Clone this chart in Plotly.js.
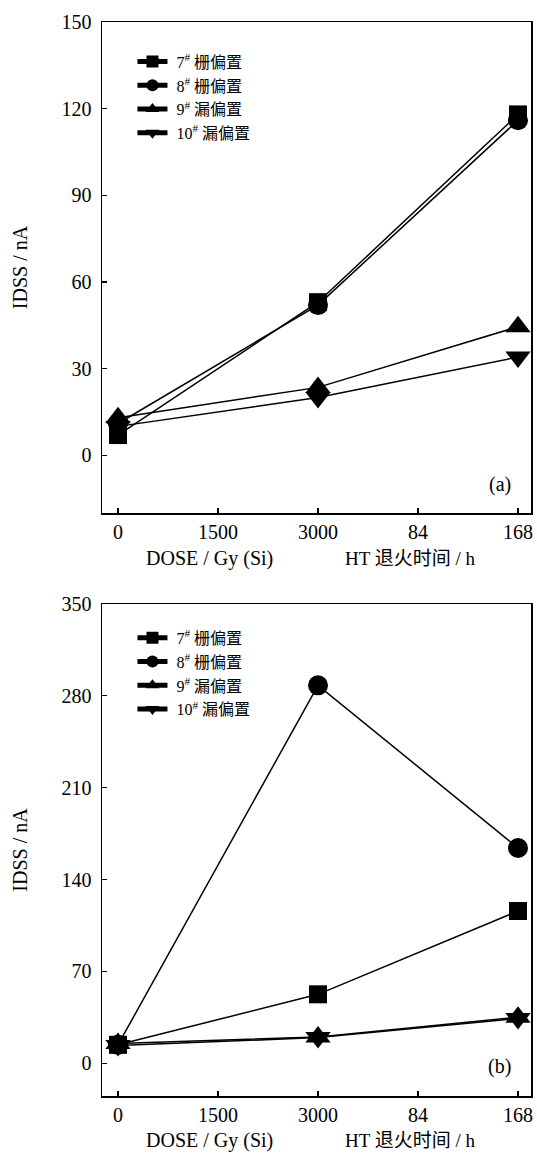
<!DOCTYPE html>
<html>
<head>
<meta charset="utf-8">
<script src="https://cdn.plot.ly/plotly-3.0.1.min.js"></script>
<style>html,body{margin:0;padding:0;background:#fff;}</style>
</head>
<body>
<div id="chart" style="width:537px;height:1153px;"></div>
<script>
// Categories along the x axis (dose in Gy(Si), then HT anneal time in h)
const tickLabels = ['0', '1500', '3000', '84', '168'];
const xCats = ['0', '3000', '168'];

// Series names
const seriesNames = ['\u00a07<sup>#</sup> 栅偏置', '\u00a08<sup>#</sup> 栅偏置', '\u00a09<sup>#</sup> 漏偏置', '\u00a010<sup>#</sup> 漏偏置'];

// Panel (a) IDSS / nA
const a7 = [7, 53, 118];
const a8 = [11, 52, 116];
const a9 = [13, 23.5, 44.5];
const a10 = [10, 20, 34];

// Panel (b) IDSS / nA
const b7 = [14, 52.5, 116];
const b8 = [14, 288, 164];
const b9 = [15, 20, 35];
const b10 = [13.5, 19.5, 34];

const symbols = ['square', 'circle', 'triangle-up', 'triangle-down'];
const sizes = [18, 20, 22, 22];

function mk(y, i, xa, ya, leg) {
  return {
    x: xCats, y: y, xaxis: xa, yaxis: ya, legend: leg,
    type: 'scatter', mode: 'lines+markers', name: seriesNames[i],
    line: {color: '#000', width: 1.5},
    marker: {symbol: symbols[i], size: sizes[i], color: '#000'},
    cliponaxis: false
  };
}

const data = [
  mk(a7, 0, 'x', 'y', 'legend'), mk(a8, 1, 'x', 'y', 'legend'),
  mk(a9, 2, 'x', 'y', 'legend'), mk(a10, 3, 'x', 'y', 'legend'),
  mk(b7, 0, 'x2', 'y2', 'legend2'), mk(b8, 1, 'x2', 'y2', 'legend2'),
  mk(b9, 2, 'x2', 'y2', 'legend2'), mk(b10, 3, 'x2', 'y2', 'legend2')
];

const FONT = 'Liberation Serif, "Noto Sans CJK SC", serif';
const xr = [-0.16, 4.13];
const midPos = (2 - xr[0]) / (xr[1] - xr[0]);

function xAxis(anchor) {
  return {
    type: 'category', categoryorder: 'array', categoryarray: tickLabels,
    range: xr, anchor: anchor, domain: [0, 1],
    ticks: 'inside', ticklen: 5, tickwidth: 1.2, tickcolor: '#000',
    showline: true, linewidth: 1.5, linecolor: '#000', mirror: true,
    showgrid: false, zeroline: false, tickfont: {size: 20}
  };
}
function yAxis(anchor, dom, rng, dt) {
  return {
    anchor: anchor, domain: dom, range: rng, dtick: dt, tick0: 0,
    ticks: 'inside', ticklen: 5, tickwidth: 1.2, tickcolor: '#000',
    showline: true, linewidth: 1.5, linecolor: '#000', mirror: true,
    showgrid: false, zeroline: false, tickfont: {size: 20}, ticklabelstandoff: 5,
    title: {text: 'IDSS / nA', font: {size: 20}, standoff: 28}
  };
}
function midAxis(over, rng, dt) {
  return {
    overlaying: over, anchor: 'free', position: midPos, side: 'left',
    range: rng, dtick: dt, tick0: 0,
    ticks: 'inside', ticklen: 5, tickwidth: 1.2, tickcolor: '#000',
    showline: true, linewidth: 1.5, linecolor: '#000',
    showticklabels: false, showgrid: false, zeroline: false
  };
}

const topDom = [0.5428, 1];
const botDom = [0, 0.4581];

const layout = {
  width: 537, height: 1153,
  margin: {l: 102, r: 6, t: 22, b: 57},
  paper_bgcolor: '#fff', plot_bgcolor: '#fff',
  font: {family: FONT, size: 16, color: '#000'},
  showlegend: true,
  xaxis: xAxis('y'),
  xaxis2: xAxis('y2'),
  yaxis: yAxis('x', topDom, [-20, 150], 30),
  yaxis2: yAxis('x2', botDom, [-25, 350], 70),
  yaxis3: midAxis('y', [-20, 150], 30),
  yaxis4: midAxis('y2', [-25, 350], 70),
  legend: {x: 0.071, xanchor: 'left', y: 0.979, yanchor: 'top', bgcolor: 'rgba(0,0,0,0)',
           font: {size: 16}, tracegroupgap: 0, itemwidth: 30, itemsizing: 'constant'},
  legend2: {x: 0.071, xanchor: 'left', y: 0.4425, yanchor: 'top', bgcolor: 'rgba(0,0,0,0)',
            font: {size: 16}, tracegroupgap: 0, itemwidth: 30, itemsizing: 'constant'},
  annotations: [
    {text: '(a)', xref: 'paper', yref: 'paper', x: 0.958, y: 0.5698, xanchor: 'right', yanchor: 'middle', showarrow: false, font: {size: 20}},
    {text: '(b)', xref: 'paper', yref: 'paper', x: 0.958, y: 0.0279, xanchor: 'right', yanchor: 'middle', showarrow: false, font: {size: 20}},
    {text: 'DOSE / Gy (Si)', xref: 'paper', yref: 'paper', x: 0.25, y: 0.5428, yshift: -45, xanchor: 'center', yanchor: 'middle', showarrow: false, font: {size: 20}},
    {text: 'HT 退火时间 / h', xref: 'paper', yref: 'paper', x: 0.72, y: 0.5428, yshift: -45, xanchor: 'center', yanchor: 'middle', showarrow: false, font: {size: 19}},
    {text: 'DOSE / Gy (Si)', xref: 'paper', yref: 'paper', x: 0.25, y: 0, yshift: -44, xanchor: 'center', yanchor: 'middle', showarrow: false, font: {size: 20}},
    {text: 'HT 退火时间 / h', xref: 'paper', yref: 'paper', x: 0.72, y: 0, yshift: -44, xanchor: 'center', yanchor: 'middle', showarrow: false, font: {size: 19}}
  ]
};

Plotly.newPlot('chart', data, layout, {displayModeBar: false, staticPlot: true});
</script>
</body>
</html>
